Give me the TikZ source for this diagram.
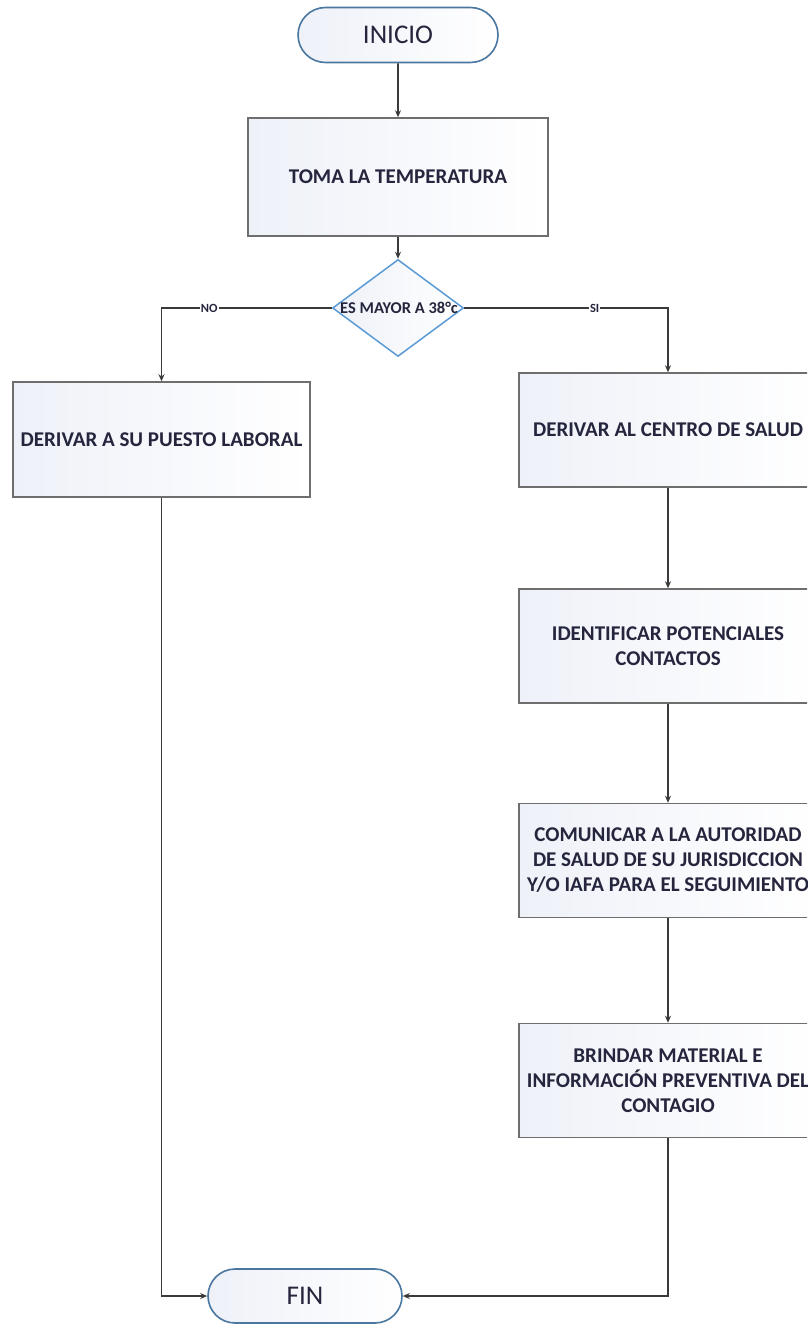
\documentclass[tikz,border=0pt]{standalone}
\usepackage{fontspec}
\setmainfont{Carlito}
\usetikzlibrary{shapes.geometric,shapes.misc,arrows.meta}
\definecolor{txt}{HTML}{25253D}
\definecolor{edge}{HTML}{6E6E6E}
\definecolor{termedge}{HTML}{4A77A0}
\definecolor{diaedge}{HTML}{5B9BD5}
\definecolor{wire}{HTML}{3A3A3A}
\definecolor{tint}{HTML}{EEF1F8}
\tikzset{
  terminal/.style={rounded rectangle, draw=termedge, line width=1.6pt,
    left color=tint, right color=white, text=txt, font=\fontsize{27}{30}\selectfont,
    minimum width=200pt, minimum height=55pt, inner sep=0pt},
  procbox/.style={rectangle, draw=edge, line width=1.5pt,
    left color=tint, right color=white, text=txt, font=\bfseries\fontsize{21}{25}\selectfont,
    minimum width=298pt, minimum height=114pt, align=center, inner sep=0pt},
  decision/.style={diamond, draw=diaedge, line width=1.5pt,
    left color=tint, right color=white, minimum width=131pt, minimum height=97pt, inner sep=0pt},
  flow/.style={draw=wire, line width=1.8pt, -{Stealth[length=7pt,width=6pt]}},
  branch/.style={fill=white, text=txt, font=\bfseries\fontsize{12.5}{14}\selectfont, inner sep=1pt}
}
\begin{document}
\begin{tikzpicture}[x=1pt,y=-1pt]
  \useasboundingbox (0,0) rectangle (807,1324);
  \begin{scope}
  \clip (0,0) rectangle (807,1324);

  % start and main steps
  \node[terminal] (inicio) at (398,35) {INICIO};
  \node[procbox, minimum width=300pt, minimum height=118pt] (toma) at (398,177) {TOMA LA TEMPERATURA};
  \node[decision] (dec) at (398,308) {};
  \node[text=txt, font=\bfseries\fontsize{16.5}{18}\selectfont, inner sep=0pt] (decl) at (399,308) {ES MAYOR A 38°c};

  % NO branch
  \node[procbox, minimum width=297pt, minimum height=115pt] (lab) at (161.5,439.5) {DERIVAR A SU PUESTO LABORAL};

  % SI branch
  \node[procbox] (salud) at (668,430) {DERIVAR AL CENTRO DE SALUD};
  \node[procbox] (ident) at (668,646) {IDENTIFICAR POTENCIALES\\CONTACTOS};
  \node[procbox] (comun) at (668,860.5) {COMUNICAR A LA AUTORIDAD\\DE SALUD DE SU JURISDICCION\\Y/O IAFA PARA EL SEGUIMIENTO};
  \node[procbox] (brind) at (668,1080.5) {BRINDAR MATERIAL E\\INFORMACIÓN PREVENTIVA DEL\\CONTAGIO};

  % end
  \node[terminal, minimum width=194pt, minimum height=54pt] (fin) at (305,1296) {FIN};

  % connectors
  \draw[flow] (inicio) -- (toma);
  \draw[flow] (toma) -- (dec);
  \draw[flow] (dec.west) -| node[branch, pos=0.36] {NO} (lab.north);
  \draw[flow] (dec.east) -| node[branch, pos=0.32] {SI} (salud.north);
  \draw[flow] (salud) -- (ident);
  \draw[flow] (ident) -- (comun);
  \draw[flow] (comun) -- (brind);
  \draw[flow] (lab.south) |- (fin.west);
  \draw[flow] (brind.south) |- (fin.east);
  \end{scope}
\end{tikzpicture}
\end{document}
